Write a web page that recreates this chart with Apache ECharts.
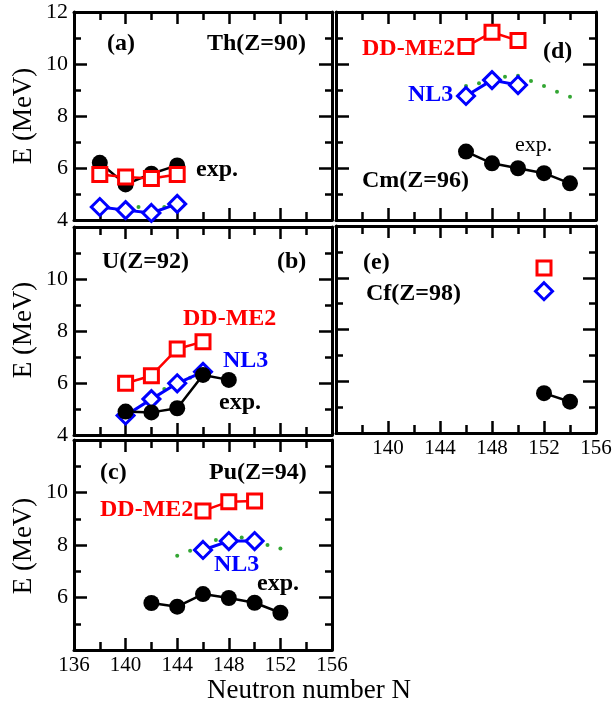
<!DOCTYPE html>
<html>
<head>
<meta charset="utf-8">
<script src="https://cdn.jsdelivr.net/npm/echarts@6/dist/echarts.min.js"></script>
<style>
  html, body { margin: 0; padding: 0; background: #fff; }
  #stack { position: relative; width: 614px; height: 710px; }
  .panel { position: absolute; left: 0; top: 0; width: 614px; height: 710px; }
</style>
</head>
<body>
<div id="stack"></div>
<script>
// tick labels
const nTicks = [136, 140, 144, 148, 152, 156];
const eTicks = [4, 6, 8, 10, 12];

// (a) Th
const thN = [138, 140, 142, 144];
const thExp = [6.2, 5.37, 5.78, 6.1];
const thDDME2 = [5.75, 5.65, 5.6, 5.75];
const thNL3 = [4.5, 4.38, 4.27, 4.62];
const thDotN = [140, 141, 142, 143];
const thDot = [4.58, 4.5, 4.48, 4.5];

// (b) U
const uExpN = [140, 142, 144, 146, 148];
const uExp = [4.9, 4.87, 5.03, 6.31, 6.12];
const uThN = [140, 142, 144, 146];
const uDDME2 = [5.99, 6.28, 7.31, 7.59];
const uNL3 = [4.75, 5.38, 5.99, 6.43];
const uDotN = [142, 143, 144, 145, 146];
const uDot = [5.51, 5.77, 6.01, 6.2, 6.43];

// (c) Pu
const puExpN = [142, 144, 146, 148, 150, 152];
const puExp = [5.79, 5.65, 6.13, 5.98, 5.8, 5.42];
const puThN = [146, 148, 150];
const puDDME2 = [9.3, 9.65, 9.68];
const puNL3 = [7.81, 8.15, 8.15];
const puDotN = [144, 145, 146, 147, 148, 149, 150, 151, 152];
const puDot = [7.59, 7.78, 8.0, 8.19, 8.38, 8.29, 8.13, 8.0, 7.87];

// (d) Cm
const cmExpN = [146, 148, 150, 152, 154];
const cmExp = [6.63, 6.18, 5.99, 5.8, 5.41];
const cmThN = [146, 148, 150];
const cmDDME2 = [10.67, 11.22, 10.9];
const cmNL3 = [8.77, 9.38, 9.19];
const cmDotN = [146, 147, 148, 149, 150, 151, 152, 153, 154];
const cmDot = [9.15, 9.26, 9.38, 9.51, 9.55, 9.35, 9.15, 8.93, 8.74];

// (e) Cf
const cfExpN = [152, 154];
const cfExp = [5.54, 5.21];
const cfThN = [152];
const cfDDME2 = [10.38];
const cfNL3 = [9.48];

const FONT = '"Liberation Serif", serif';
const RED = '#ff0000';
const BLUE = '#0000ff';
const GREEN = '#009000';

const pairs = (n, v) => n.map((x, i) => [x, v[i]]);

function txt(text, x, y, color, bold) {
  return {
    type: 'text', x: x, y: y,
    style: {
      text: text,
      fill: color || '#000',
      font: (bold === false ? '22px ' : 'bold 24px ') + FONT,
      verticalAlign: 'middle',
      align: 'left'
    }
  };
}
function title(text, x, y, rotate) {
  return {
    type: 'text', x: x, y: y,
    rotation: rotate ? Math.PI / 2 : 0,
    style: { text: text, fill: '#000', font: '27px ' + FONT, align: 'center', verticalAlign: 'middle' }
  };
}

// one chart instance per panel, all stacked on the same 614x710 area
const panels = [
  {
    grid: { left: 74, top: 12, width: 258, height: 208 },
    yLab: { show: true, min: true, max: true }, xLab: { show: false },
    nl: [thN, thNL3], exp: [thN, thExp], dd: [thN, thDDME2], dots: [thDotN, thDot],
    texts: [txt('(a)', 107, 44), txt('Th(Z=90)', 207, 44), txt('exp.', 196, 170), title('E (MeV)', 24, 116, true)]
  },
  {
    grid: { left: 74, top: 227, width: 258, height: 208 },
    yLab: { show: true, min: true, max: false }, xLab: { show: false },
    nl: [uThN, uNL3], exp: [uExpN, uExp], dd: [uThN, uDDME2], dots: [uDotN, uDot],
    texts: [
      txt('U(Z=92)', 102, 262), txt('(b)', 277, 262), txt('DD-ME2', 183, 319, RED),
      txt('NL3', 223, 361, BLUE), txt('exp.', 219, 403), title('E (MeV)', 24, 330, true)
    ]
  },
  {
    grid: { left: 74, top: 440, width: 258, height: 210 },
    yLab: { show: true, min: false, max: false }, xLab: { show: true, min: true },
    nl: [puThN, puNL3], exp: [puExpN, puExp], dd: [puThN, puDDME2], dots: [puDotN, puDot],
    texts: [
      txt('(c)', 100, 473), txt('Pu(Z=94)', 209, 473), txt('DD-ME2', 100, 510, RED),
      txt('NL3', 214, 565, BLUE), txt('exp.', 257, 584),
      title('E (MeV)', 24, 546, true), title('Neutron number N', 309, 691, false)
    ]
  },
  {
    grid: { left: 336, top: 12, width: 260, height: 208 },
    yLab: { show: false }, xLab: { show: false },
    nl: [cmThN, cmNL3], exp: [cmExpN, cmExp], dd: [cmThN, cmDDME2], dots: [cmDotN, cmDot],
    texts: [
      txt('DD-ME2', 362, 49, RED), txt('(d)', 543, 52), txt('NL3', 408, 95, BLUE),
      txt('exp.', 515, 145, '#000', false), txt('Cm(Z=96)', 362, 181)
    ]
  },
  {
    grid: { left: 336, top: 226, width: 260, height: 207 },
    yLab: { show: false }, xLab: { show: true, min: false },
    nl: [cfThN, cfNL3], exp: [cfExpN, cfExp], dd: [cfThN, cfDDME2], dots: null,
    texts: [txt('(e)', 363, 263), txt('Cf(Z=98)', 366, 294)]
  }
];

function xAxis(pos, lab) {
  return {
    type: 'value',
    position: pos,
    min: nTicks[0],
    max: nTicks[nTicks.length - 1],
    interval: nTicks[1] - nTicks[0],
    axisLine: { show: true, onZero: false, lineStyle: { color: '#000', width: 3 } },
    axisTick: { show: true, inside: true, length: 12, lineStyle: { color: '#000', width: 2.5 } },
    minorTick: { show: true, splitNumber: 2, length: 8, lineStyle: { color: '#000', width: 2.5 } },
    splitLine: { show: false },
    axisLabel: {
      show: lab.show,
      showMinLabel: lab.min !== false,
      margin: 5,
      color: '#000',
      fontFamily: FONT,
      fontSize: 21
    }
  };
}
function yAxis(pos, lab) {
  return {
    type: 'value',
    position: pos,
    min: eTicks[0],
    max: eTicks[eTicks.length - 1],
    interval: eTicks[1] - eTicks[0],
    axisLine: { show: true, onZero: false, lineStyle: { color: '#000', width: 3 } },
    axisTick: { show: true, inside: true, length: 13, lineStyle: { color: '#000', width: 2.5 } },
    minorTick: { show: true, splitNumber: 2, length: 7, lineStyle: { color: '#000', width: 2.5 } },
    splitLine: { show: false },
    axisLabel: {
      show: lab.show,
      showMinLabel: lab.min !== false,
      showMaxLabel: lab.max !== false,
      margin: 6,
      color: '#000',
      fontFamily: FONT,
      fontSize: 22
    }
  };
}

function panelSeries(p) {
  // NL3 under exp., DD-ME2 over exp., green dots on top
  const list = [
    {
      type: 'line', data: pairs(p.nl[0], p.nl[1]),
      symbol: 'diamond', symbolSize: 17, showAllSymbol: true,
      itemStyle: { color: '#fff', borderColor: BLUE, borderWidth: 3 },
      lineStyle: { color: BLUE, width: 3 }
    },
    {
      type: 'line', data: pairs(p.exp[0], p.exp[1]),
      symbol: 'circle', symbolSize: 16, showAllSymbol: true,
      itemStyle: { color: '#000' },
      lineStyle: { color: '#000', width: 2.5 }
    },
    {
      type: 'line', data: pairs(p.dd[0], p.dd[1]),
      symbol: 'rect', symbolSize: 14, showAllSymbol: true,
      itemStyle: { color: '#fff', borderColor: RED, borderWidth: 3 },
      lineStyle: { color: RED, width: 2.5 }
    }
  ];
  if (p.dots) {
    list.push({
      type: 'scatter', data: pairs(p.dots[0], p.dots[1]),
      symbol: 'circle', symbolSize: 4,
      itemStyle: { color: GREEN }
    });
  }
  return list;
}

const stack = document.getElementById('stack');
panels.forEach(p => {
  const el = document.createElement('div');
  el.className = 'panel';
  stack.appendChild(el);
  const chart = echarts.init(el, null, { renderer: 'canvas' });
  chart.setOption({
    animation: false,
    grid: Object.assign({ outerBoundsMode: 'none', containLabel: false }, p.grid),
    xAxis: [xAxis('bottom', p.xLab), xAxis('top', { show: false })],
    yAxis: [yAxis('left', p.yLab), yAxis('right', { show: false })],
    series: panelSeries(p),
    graphic: p.texts
  });
});
</script>
</body>
</html>
